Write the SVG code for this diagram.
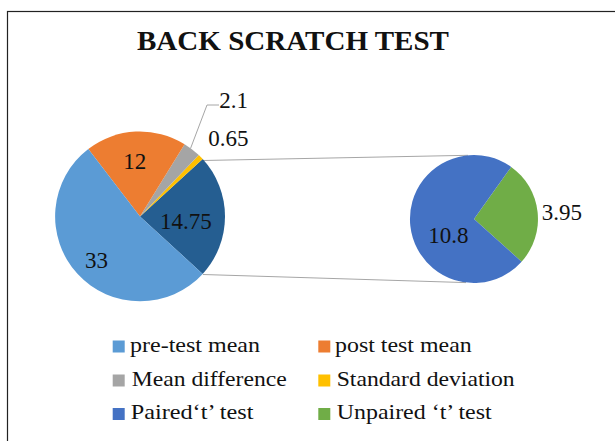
<svg xmlns="http://www.w3.org/2000/svg" width="615" height="441" viewBox="0 0 615 441">
<style>
text{font-family:"Liberation Serif","Tinos","Noto Serif","Nimbus Roman","Times New Roman",Times,"FreeSerif","DejaVu Serif","Noto Serif CJK SC",serif;fill:#111}
.title{font-size:28px;font-weight:bold}
.lbl{font-size:23px}
.leg{font-size:22px}
.conn{stroke:#A6A6A6;stroke-width:1;fill:none}
</style>
<rect x="0" y="0" width="615" height="441" fill="#fff"/>
<rect x="7.5" y="11.5" width="640" height="460" fill="none" stroke="#222" stroke-width="1.2"/>
<g id="title"><text class="title" x="137" y="50" textLength="312" lengthAdjust="spacingAndGlyphs">BACK SCRATCH TEST</text></g>
<g id="connectors">
<line class="conn" x1="203" y1="160.5" x2="468" y2="155.3"/>
<line class="conn" x1="203" y1="274.5" x2="466" y2="282.6"/>
<polyline class="conn" points="190.5,148.5 207,105 219,105"/>
</g>
<g id="pie-main">
<g id="slice-other"><path d="M140,216.5 L202.7,273.9 A85,85 0 0 0 202.7,159.1 Z" fill="#255E91"/></g>
<g id="slice-sd"><path d="M140,216.5 L202.7,159.1 A85,85 0 0 0 198.8,155.1 Z" fill="#FFC000"/></g>
<g id="slice-meandiff"><path d="M140,216.5 L198.8,155.1 A85,85 0 0 0 184.6,144.2 Z" fill="#A5A5A5"/></g>
<g id="slice-post"><path d="M140,216.5 L184.6,144.2 A85,85 0 0 0 88.3,149.0 Z" fill="#ED7D31"/></g>
<g id="slice-pre"><path d="M140,216.5 L88.3,149.0 A85,85 0 1 0 202.7,273.9 Z" fill="#5B9BD5"/></g>
<text class="lbl" x="123.3" y="169.3">12</text>
<text class="lbl" x="160" y="229.3">14.75</text>
<text class="lbl" x="85" y="267.7">33</text>
<text class="lbl" x="219.3" y="108.3">2.1</text>
<text class="lbl" x="208.3" y="145.5">0.65</text>
</g>
<g id="pie-second">
<g id="slice-unpaired"><path d="M474,219 L511.2,166.9 A64,64 0 0 1 521.6,261.7 Z" fill="#70AD47"/></g>
<g id="slice-paired"><path d="M474,219 L521.6,261.7 A64,64 0 1 1 511.2,166.9 Z" fill="#4472C4"/></g>
<text class="lbl" x="428.3" y="242.7">10.8</text>
<text class="lbl" x="541.7" y="220">3.95</text>
</g>
<g id="legend">
<g id="leg-pre"><rect x="112.7" y="340.5" width="12" height="12" fill="#5B9BD5"/><text class="leg" x="130" y="351.5" textLength="130" lengthAdjust="spacingAndGlyphs">pre-test mean</text></g>
<g id="leg-post"><rect x="318.3" y="340.5" width="12" height="12" fill="#ED7D31"/><text class="leg" x="335" y="351.5" textLength="136.7" lengthAdjust="spacingAndGlyphs">post test mean</text></g>
<g id="leg-meandiff"><rect x="112.7" y="374.5" width="12" height="12" fill="#A5A5A5"/><text class="leg" x="131.7" y="386" textLength="155" lengthAdjust="spacingAndGlyphs">Mean difference</text></g>
<g id="leg-sd"><rect x="318.3" y="374.5" width="12" height="12" fill="#FFC000"/><text class="leg" x="336.7" y="386" textLength="178" lengthAdjust="spacingAndGlyphs">Standard deviation</text></g>
<g id="leg-paired"><rect x="112.7" y="408" width="12" height="12" fill="#4472C4"/><text class="leg" x="130.7" y="419.3" textLength="122.7" lengthAdjust="spacingAndGlyphs">Paired‘t’ test</text></g>
<g id="leg-unpaired"><rect x="318.3" y="408" width="12" height="12" fill="#70AD47"/><text class="leg" x="336.7" y="419.3" textLength="155" lengthAdjust="spacingAndGlyphs">Unpaired ‘t’ test</text></g>
</g>
</svg>
